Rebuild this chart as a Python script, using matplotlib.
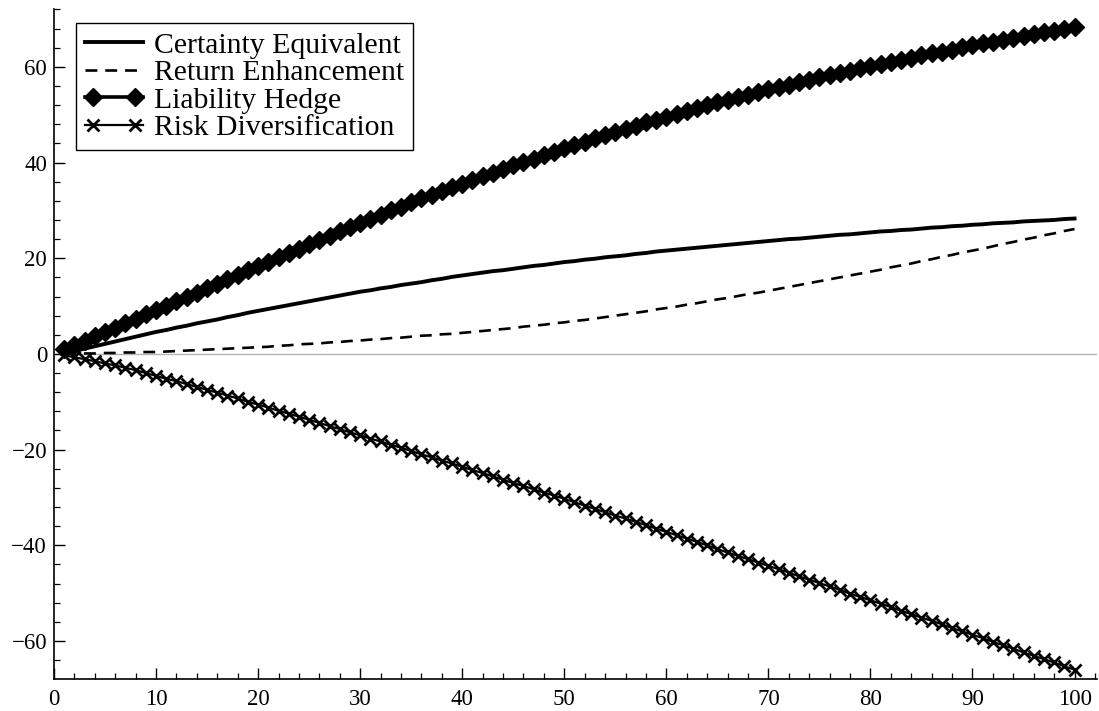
import numpy as np
import matplotlib
matplotlib.use("Agg")
import matplotlib.pyplot as plt
from matplotlib.ticker import MultipleLocator
from matplotlib.lines import Line2D
from matplotlib.legend_handler import HandlerLine2DCompound

plt.rcParams['font.family'] = ['Liberation Serif', 'DejaVu Serif']

# horizon 1..100
x = np.arange(1, 101)

certainty_equiv = [
    0.1, 0.6, 1.1, 1.6, 2.1, 2.6, 3.1, 3.6, 4.1, 4.6,
    5.0, 5.5, 5.9, 6.4, 6.8, 7.2, 7.7, 8.1, 8.6, 9.0,
    9.4, 9.8, 10.2, 10.6, 11.0, 11.4, 11.8, 12.2, 12.6, 13.0,
    13.3, 13.7, 14.0, 14.4, 14.7, 15.0, 15.4, 15.7, 16.1, 16.4,
    16.7, 17.0, 17.3, 17.5, 17.8, 18.1, 18.4, 18.6, 18.9, 19.2,
    19.4, 19.7, 19.9, 20.2, 20.4, 20.6, 20.9, 21.1, 21.4, 21.6,
    21.8, 22.0, 22.2, 22.4, 22.6, 22.8, 23.0, 23.2, 23.4, 23.6,
    23.8, 24.0, 24.1, 24.3, 24.5, 24.7, 24.9, 25.0, 25.2, 25.4,
    25.6, 25.7, 25.9, 26.0, 26.2, 26.4, 26.5, 26.7, 26.8, 27.0,
    27.1, 27.3, 27.4, 27.5, 27.7, 27.8, 27.9, 28.0, 28.2, 28.3,
]

return_enh = [
    0.0, 0.0, 0.1, 0.1, 0.2, 0.2, 0.3, 0.3, 0.4, 0.4,
    0.5, 0.6, 0.7, 0.8, 0.9, 1.0, 1.1, 1.2, 1.3, 1.4,
    1.5, 1.7, 1.8, 2.0, 2.1, 2.2, 2.4, 2.5, 2.7, 2.8,
    3.0, 3.1, 3.3, 3.4, 3.6, 3.8, 3.9, 4.1, 4.2, 4.4,
    4.6, 4.8, 5.0, 5.2, 5.4, 5.7, 5.9, 6.1, 6.4, 6.6,
    6.9, 7.1, 7.4, 7.7, 8.0, 8.3, 8.6, 8.9, 9.3, 9.6,
    9.9, 10.3, 10.6, 11.0, 11.4, 11.7, 12.1, 12.5, 12.8, 13.2,
    13.6, 14.0, 14.4, 14.8, 15.2, 15.6, 16.0, 16.4, 16.8, 17.2,
    17.6, 18.1, 18.5, 18.9, 19.4, 19.8, 20.3, 20.7, 21.2, 21.6,
    22.0, 22.5, 23.0, 23.4, 23.9, 24.3, 24.8, 25.2, 25.7, 26.1,
]

liability_hedge = [
    1.0, 1.9, 2.8, 3.7, 4.6, 5.5, 6.4, 7.3, 8.3, 9.2,
    10.1, 11.0, 11.9, 12.8, 13.8, 14.7, 15.6, 16.5, 17.5, 18.4,
    19.3, 20.2, 21.1, 22.0, 22.9, 23.8, 24.7, 25.6, 26.5, 27.4,
    28.3, 29.1, 30.0, 30.8, 31.7, 32.5, 33.3, 34.1, 34.9, 35.6,
    36.4, 37.1, 37.9, 38.6, 39.4, 40.1, 40.8, 41.6, 42.3, 43.0,
    43.7, 44.4, 45.1, 45.7, 46.4, 47.1, 47.7, 48.4, 49.0, 49.6,
    50.2, 50.8, 51.4, 52.0, 52.6, 53.1, 53.7, 54.2, 54.8, 55.3,
    55.8, 56.3, 56.8, 57.3, 57.8, 58.3, 58.8, 59.2, 59.7, 60.2,
    60.6, 61.1, 61.5, 61.9, 62.4, 62.8, 63.2, 63.6, 64.1, 64.5,
    64.9, 65.3, 65.7, 66.1, 66.5, 66.8, 67.2, 67.6, 68.0, 68.4,
]

risk_divers = [
    -0.3, -0.7, -1.1, -1.5, -2.0, -2.4, -2.9, -3.4, -4.0, -4.6,
    -5.2, -5.7, -6.3, -6.9, -7.5, -8.1, -8.7, -9.3, -10.0, -10.6,
    -11.2, -11.9, -12.5, -13.1, -13.8, -14.4, -15.1, -15.7, -16.4, -17.0,
    -17.7, -18.3, -19.0, -19.6, -20.3, -21.0, -21.6, -22.3, -22.9, -23.6,
    -24.3, -24.9, -25.6, -26.3, -27.0, -27.6, -28.3, -29.0, -29.6, -30.3,
    -31.0, -31.7, -32.4, -33.1, -33.8, -34.4, -35.1, -35.8, -36.5, -37.2,
    -37.9, -38.6, -39.3, -40.0, -40.8, -41.5, -42.2, -42.9, -43.6, -44.3,
    -45.0, -45.7, -46.5, -47.2, -47.9, -48.6, -49.3, -50.1, -50.8, -51.5,
    -52.2, -52.9, -53.7, -54.4, -55.1, -55.8, -56.5, -57.3, -58.0, -58.7,
    -59.4, -60.2, -60.9, -61.6, -62.4, -63.1, -63.8, -64.5, -65.3, -66.0,
]


class FullLineHandler(HandlerLine2DCompound):
    # markers inset, but the line itself runs the whole handle length
    def create_artists(self, legend, orig_handle, xdescent, ydescent,
                       width, height, fontsize, trans):
        arts = super().create_artists(legend, orig_handle, xdescent, ydescent,
                                      width, height, fontsize, trans)
        y0 = arts[0].get_ydata()[0]
        arts[0].set_data([-xdescent, width - xdescent], [y0, y0])
        return arts


fig = plt.figure(figsize=(10.99, 7.11), dpi=100)
ax = fig.add_axes([54/1099, 32/711, (1097-54)/1099, (679-9)/711])

# zero line
ax.axhline(0, color="#b4b4b4", lw=1.0, zorder=1)

ax.plot(x, certainty_equiv, "k-", lw=2.8, label="Certainty Equivalent")
ax.plot(x, return_enh, "k--", lw=1.9, dashes=(4.5, 3.0), label="Return Enhancement")
ax.plot(x, liability_hedge, "k-", lw=2.6, marker="D", ms=9, label="Liability Hedge")
ax.plot(x, risk_divers, "k-", lw=1.6, marker="x", ms=9, mew=2.0, label="Risk Diversification")

ax.set_xlim(0, 102.2)
ax.set_ylim(-67.95, 72.1)

for s in ["top", "right"]:
    ax.spines[s].set_visible(False)
ax.spines["left"].set_linewidth(1.2)
ax.spines["bottom"].set_linewidth(1.2)

ax.xaxis.set_major_locator(MultipleLocator(10))
ax.xaxis.set_minor_locator(MultipleLocator(2))
ax.yaxis.set_major_locator(MultipleLocator(20))
ax.yaxis.set_minor_locator(MultipleLocator(4))
ax.tick_params(which="major", direction="in", length=8, width=1.0, labelsize=16.5)
ax.tick_params(axis="x", which="major", pad=7)
ax.tick_params(axis="y", which="major", pad=5)
ax.tick_params(which="minor", direction="in", length=4.5, width=0.9)

leg = ax.legend(loc="upper left", bbox_to_anchor=(0.021, 0.979), fontsize=21.4,
                frameon=True, fancybox=False, edgecolor="black", framealpha=1,
                handlelength=1.95, handletextpad=0.38, borderpad=0.3,
                labelspacing=0.02, borderaxespad=0, numpoints=2,
                handler_map={Line2D: FullLineHandler(marker_pad=0.27)})
leg.get_frame().set_linewidth(1.0)

fig.savefig("out.png", dpi=100)
